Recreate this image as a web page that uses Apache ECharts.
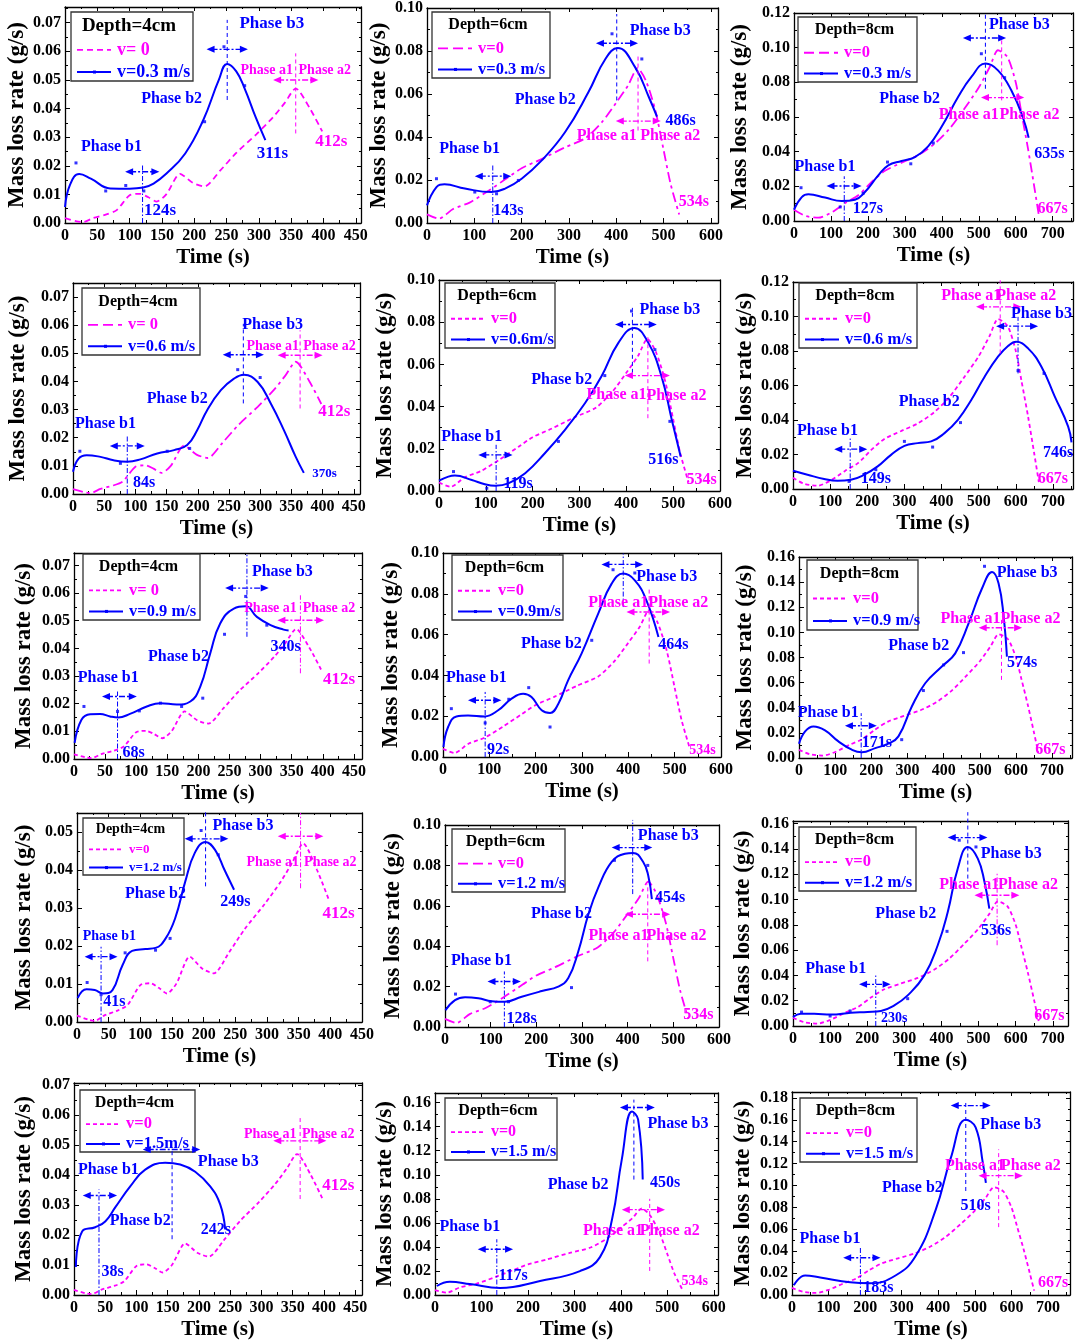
<!DOCTYPE html>
<html><head><meta charset="utf-8">
<script src="https://cdn.jsdelivr.net/npm/echarts@6/dist/echarts.min.js"></script>
<style>html,body{margin:0;padding:0;background:#fff}#c{width:1076px;height:1341px}</style>
</head><body><div id="c"></div>
<script>
const FONT = '"Liberation Serif", "Times New Roman", serif';
const BLUE = '#0000ff', PINK = '#ff00ff';

// ---------- v = 0 reference curves (one per depth) ----------
const v0_4cm = [[0,0.0017],[18,0.0006],[28,0.0003],[44,0.0018],[64,0.003],[80,0.0045],[100,0.0097],[116,0.0102],[129,0.009],[142,0.0075],[157,0.0101],[178,0.0172],[198,0.014],[216,0.0128],[240,0.0183],[265,0.0245],[296,0.031],[322,0.037],[340,0.042],[357,0.047],[379,0.040],[398,0.032]];
const v0_6cm = [[0,0.004],[25,0.002],[55,0.0065],[90,0.0095],[130,0.015],[170,0.021],[200,0.0255],[240,0.0295],[290,0.035],[335,0.0395],[370,0.047],[400,0.056],[425,0.064],[445,0.072],[463,0.066],[483,0.052],[500,0.034],[515,0.018],[533,0.004]];
const v0_8cm = [[0,0.0065],[30,0.003],[66,0.0019],[102,0.005],[140,0.0105],[175,0.015],[210,0.0225],[246,0.029],[290,0.0335],[336,0.038],[380,0.0445],[420,0.053],[460,0.0645],[500,0.077],[530,0.089],[552,0.0985],[578,0.0945],[600,0.08],[615,0.063],[633,0.042],[650,0.02],[662,0.004]];

// ---------- wind-on curves ----------
const b_4_03 = [[0,0.0056],[8,0.0135],[22,0.0171],[40,0.0155],[70,0.0121],[100,0.012],[121,0.0124],[137,0.0138],[157,0.0173],[186,0.0243],[214,0.036],[238,0.05],[251,0.0556],[265,0.053],[278,0.047],[295,0.037],[310,0.029]];
const b_6_03 = [[0,0.0082],[20,0.0167],[37,0.018],[80,0.016],[136,0.0144],[165,0.016],[200,0.0206],[242,0.029],[292,0.0423],[341,0.0608],[377,0.0763],[403,0.0814],[440,0.0724],[469,0.0585],[486,0.0495]];
const b_8_03 = [[0,0.0065],[21,0.0138],[39,0.0154],[84,0.0135],[129,0.0115],[165,0.0123],[192,0.0167],[228,0.0263],[255,0.0321],[291,0.0346],[327,0.0369],[363,0.0431],[399,0.0542],[444,0.0715],[480,0.0831],[518,0.0908],[552,0.0869],[588,0.0754],[619,0.06],[635,0.048]];
const b_4_06 = [[0,0.0079],[9,0.0126],[22,0.0138],[44,0.0132],[65,0.012],[87,0.0115],[108,0.0123],[135,0.0144],[162,0.0156],[183,0.0174],[199,0.0227],[215,0.0298],[237,0.0369],[258,0.041],[274,0.0424],[296,0.0398],[317,0.0322],[338,0.0227],[357,0.0132],[370,0.0075]];
const b_6_06 = [[0,0.0049],[20,0.0068],[34,0.0073],[70,0.0052],[98,0.0032],[120,0.0025],[148,0.0036],[184,0.0084],[226,0.0179],[269,0.029],[312,0.0417],[347,0.0544],[383,0.0702],[417,0.0773],[447,0.0702],[475,0.0544],[497,0.0338],[516,0.0163]];
const b_8_06 = [[0,0.0106],[39,0.0083],[84,0.0058],[120,0.0048],[156,0.0054],[192,0.0083],[228,0.0131],[264,0.0198],[300,0.025],[336,0.0266],[372,0.0276],[408,0.0324],[444,0.0401],[480,0.0516],[516,0.0651],[552,0.0767],[579,0.0829],[601,0.0854],[633,0.0815],[669,0.0709],[705,0.0536],[741,0.0362],[750,0.027]];
const b_4_09 = [[1,0.0058],[12,0.0142],[26,0.0162],[42,0.0163],[58,0.0154],[71,0.015],[90,0.0163],[117,0.019],[139,0.0202],[165,0.0197],[187,0.0208],[203,0.0262],[219,0.0382],[235,0.049],[257,0.0544],[276,0.0552],[294,0.0514],[316,0.0484],[337,0.0468],[345,0.0465]];
const b_6_09 = [[1,0.0049],[11,0.0147],[29,0.0199],[54,0.0204],[90,0.0199],[119,0.0229],[148,0.0286],[173,0.031],[191,0.0294],[213,0.0229],[231,0.0216],[249,0.0261],[270,0.0376],[299,0.0507],[335,0.0703],[364,0.085],[389,0.0899],[414,0.0866],[439,0.0768],[465,0.0588]];
const b_8_09 = [[0,0.0114],[17,0.0212],[40,0.0251],[72,0.022],[109,0.0132],[146,0.0066],[174,0.0045],[211,0.0079],[247,0.0114],[275,0.0172],[312,0.041],[349,0.0595],[395,0.0728],[432,0.0833],[469,0.1071],[506,0.1349],[534,0.1481],[552,0.1389],[566,0.1124],[575,0.0807]];
const b_4_12 = [[1,0.0063],[15,0.0086],[28,0.0084],[41,0.0075],[56,0.0084],[72,0.015],[87,0.0187],[108,0.0192],[124,0.0195],[140,0.022],[155,0.0273],[171,0.037],[186,0.0445],[203,0.0474],[218,0.0453],[233,0.04],[248,0.0348]];
const b_6_12 = [[1,0.0083],[22,0.0133],[44,0.0147],[73,0.0142],[102,0.0128],[131,0.0125],[168,0.015],[212,0.0178],[248,0.02],[270,0.0242],[292,0.0375],[314,0.0558],[336,0.0692],[365,0.0817],[394,0.0858],[412,0.0862],[434,0.0817],[445,0.075],[453,0.0633]];
const b_8_12 = [[0,0.0071],[21,0.0097],[57,0.0097],[102,0.009],[156,0.0105],[201,0.0111],[237,0.0119],[273,0.0163],[309,0.0242],[354,0.04],[390,0.0638],[417,0.0901],[444,0.1244],[471,0.1415],[498,0.1323],[516,0.1138],[529,0.0928]];
const b_4_15 = [[3,0.0093],[13,0.0212],[34,0.0226],[50,0.0245],[66,0.0292],[90,0.0362],[114,0.0418],[146,0.0441],[170,0.0435],[194,0.0411],[218,0.0362],[234,0.0302],[242,0.0219]];
const b_6_15 = [[4,0.0075],[32,0.011],[75,0.0091],[140,0.0058],[226,0.0116],[312,0.0199],[355,0.0315],[381,0.063],[402,0.1128],[424,0.1526],[437,0.146],[447,0.096]];
const b_8_15 = [[5,0.009],[36,0.0178],[77,0.016],[159,0.0116],[214,0.0107],[283,0.0178],[338,0.0356],[393,0.078],[434,0.125],[475,0.16],[502,0.153],[522,0.12],[530,0.1025]];

// ---------- raw measurement dots ----------
const d_4_03 = [[17,0.021],[63,0.0112],[94,0.0131],[122,0.0112],[216,0.0354],[246,0.0616],[278,0.048]];
const d_6_03 = [[20,0.0206],[101,0.0144],[147,0.0136],[193,0.0198],[391,0.088],[454,0.0763]];
const d_8_03 = [[19,0.0192],[125,0.0081],[187,0.016],[253,0.034],[316,0.033],[377,0.045],[507,0.0965],[570,0.0827]];
const d_4_06 = [[11,0.0152],[76,0.0109],[151,0.0152],[187,0.0162],[264,0.0442],[300,0.0414]];
const d_6_06 = [[31,0.0092],[102,0.0013],[255,0.0235],[354,0.0547],[411,0.0853],[461,0.067],[493,0.033]];
const d_8_06 = [[151,0.0044],[223,0.0112],[300,0.0276],[376,0.0243],[451,0.0385],[606,0.0686],[676,0.067]];
const d_4_09 = [[16,0.019],[70,0.0172],[105,0.0174],[139,0.0202],[173,0.019],[207,0.022],[242,0.0451],[276,0.0588],[310,0.0484]];
const d_6_09 = [[18,0.0237],[91,0.0167],[142,0.0283],[185,0.034],[231,0.0147],[321,0.0572],[367,0.0918],[414,0.0902]];
const d_8_09 = [[284,0.0146],[344,0.0537],[400,0.0741],[455,0.0839],[513,0.1526]];
const d_4_12 = [[16,0.0104],[38,0.0072],[76,0.0182],[124,0.0189],[147,0.022],[196,0.0504],[223,0.044]];
const d_6_12 = [[23,0.0163],[99,0.0125],[139,0.0125],[277,0.0195],[371,0.0825],[444,0.08]];
const d_8_12 = [[23,0.011],[100,0.0079],[154,0.0119],[309,0.0216],[415,0.0748],[448,0.1468],[493,0.1415]];
const d_none = [];

const xTickStep = {'4cm':50,'6cm':100,'8cm':100};

// ---------- panel layout / annotations ----------
const B = BLUE, P = PINK;
const SD=[4,3], MD=[6,4], LD=[10,5], DD=[10,4,3,4];
const panels = [
 {depth:'4cm', v0:'v= 0', vb:'v=0.3 m/s', grid:[65,7,361,223], xMax:458, yMax:0.0755, yInt:0.01, yGap:36.5,
  blue:b_4_03, dots:d_4_03, pink:v0_4cm, pd:MD, ld:MD, legend:[71,12,122,69], legFs:[19,18],
  texts:[['Phase b1',72,0.0266,B],['124s',147,0.0042,B,17],['Phase b2',165,0.0433,B],['Phase b3',320,0.0698,B,17],['311s',321,0.0243,B,17],['Phase a1',312,0.0534,P,14],['Phase a2',402,0.0534,P,14],['412s',412,0.0284,P,17]],
  vlines:[[120,0,0.0208,B,1],[251,0.043,0.071,B,0],[357,0.0313,0.0593,P,0]],
  arrows:[[93,120,146,0.0179,B],[219,251,283,0.0607,B],[322,357,392,0.05,P]]},
 {depth:'6cm', v0:'v=0', vb:'v=0.3 m/s', grid:[427,7,718,223], xMax:615, yMax:0.10, yInt:0.02, yGap:36.5,
  blue:b_6_03, dots:d_6_03, pink:v0_6cm, pd:DD, ld:LD, legend:[432,12,118,66], legFs:[16,16.5],
  texts:[['Phase b1',90,0.0345,B],['143s',172,0.0056,B],['Phase b2',250,0.0574,B],['Phase b3',493,0.0895,B],['486s',536,0.0477,B],['Phase a1',380,0.0407,P],['Phase a2',514,0.0407,P],['534s',564,0.0098,P]],
  vlines:[[139,0,0.0268,B,1],[401,0.057,0.0972,B,0],[446,0.043,0.0786,P,0]],
  arrows:[[101,139,178,0.0218,B],[357,401,446,0.0836,B],[399,446,494,0.0474,P]]},
 {depth:'8cm', v0:'v=0', vb:'v=0.3 m/s', grid:[794,13,1073,221], xMax:755, yMax:0.12, yInt:0.02, yGap:42.5,
  blue:b_8_03, dots:d_8_03, pink:v0_8cm, pd:DD, ld:LD, legend:[798,17,119,65], legFs:[16,16.5],
  texts:[['Phase b1',84,0.0312,B],['127s',200,0.0071,B],['Phase b2',313,0.0706,B],['Phase b3',610,0.113,B],['635s',691,0.0385,B],['Phase a1',473,0.061,P],['Phase a2',637,0.061,P],['667s',700,0.0071,P]],
  vlines:[[136,0,0.0258,B,1],[518,0.0763,0.1196,B,0],[562,0.0696,0.106,P,0]],
  arrows:[[88,136,183,0.0202,B],[457,518,574,0.1056,B],[506,562,623,0.0712,P]]},

 {depth:'4cm', v0:'v= 0', vb:'v=0.6 m/s', grid:[73,283,360,494], xMax:460, yMax:0.075, yInt:0.01, yGap:43.5,
  blue:b_4_06, dots:d_4_06, pink:v0_4cm, pd:DD, ld:LD, legend:[82,288,118,67], legFs:[16,16.5],
  texts:[['Phase b1',52,0.0248,B],['84s',114,0.0038,B],['Phase b2',167,0.0339,B],['Phase b3',320,0.060,B],['370s',403,0.0071,B,13],['Phase a1',320,0.0525,P,14],['Phase a2',411,0.0525,P,14],['412s',419,0.0292,P,17]],
  vlines:[[87,0,0.021,B,1],[273,0.0322,0.0605,B,0],[364,0.0304,0.0582,P,0]],
  arrows:[[59,87,115,0.0171,B],[240,273,306,0.0495,B],[328,364,400,0.0493,P]]},
 {depth:'6cm', v0:'v=0', vb:'v=0.6m/s', grid:[439,280,720,491], xMax:600, yMax:0.10, yInt:0.02, yGap:42.5,
  blue:b_6_06, dots:d_6_06, pink:v0_6cm, pd:SD, ld:SD, legend:[445,283,110,65], legFs:[16,16.5],
  texts:[['Phase b1',70,0.0258,B],['119s',169,0.0036,B],['Phase b2',262,0.0528,B],['Phase b3',493,0.086,B],['516s',479,0.0147,B],['Phase a1',379,0.0456,P],['Phase a2',507,0.0452,P],['534s',561,0.0052,P]],
  vlines:[[122,0,0.0219,B,1],[413,0.056,0.0868,B,0],[446,0.0345,0.0742,P,0]],
  arrows:[[84,122,157,0.0171,B],[376,413,465,0.0789,B],[397,446,493,0.0547,P]]},
 {depth:'8cm', v0:'v=0', vb:'v=0.6 m/s', grid:[793,282,1073,489], xMax:754, yMax:0.12, yInt:0.02, yGap:36.5,
  blue:b_8_06, dots:d_8_06, pink:v0_8cm, pd:SD, ld:SD, legend:[799,283,118,65], legFs:[16,16.5],
  texts:[['Phase a1',480,0.1118,P],['Phase a2',628,0.1118,P],['Phase b3',669,0.1017,B],['Phase b2',367,0.0507,B],['Phase b1',93,0.0339,B],['149s',223,0.0058,B],['746s',714,0.0212,B],['667s',700,0.0058,P]],
  vlines:[[558,0.0786,0.121,P,0],[606,0.067,0.0998,B,1],[154,0,0.0295,B,1]],
  arrows:[[493,558,615,0.1056,P],[547,606,660,0.0944,B],[111,154,200,0.0231,B]]},

 {depth:'4cm', v0:'v= 0', vb:'v=0.9 m/s', grid:[74,553,362,759], xMax:463, yMax:0.0745, yInt:0.01, yGap:38.5,
  blue:b_4_09, dots:d_4_09, pink:v0_4cm, pd:SD, ld:SD, legend:[83,554,117,66], legFs:[16,16.5],
  texts:[['Phase b1',55,0.0292,B],['68s',96,0.0022,B],['Phase b2',168,0.037,B],['Phase b3',335,0.0676,B],['340s',340,0.0406,B],['Phase a1',316,0.0544,P,14],['Phase a2',410,0.0544,P,14],['412s',426,0.0286,P,17]],
  vlines:[[70,0,0.0244,B,1],[278,0.0442,0.0742,B,1],[364,0.031,0.0592,P,1]],
  arrows:[[45,70,101,0.0226,B],[243,278,313,0.0618,B],[327,364,402,0.0502,P]]},
 {depth:'6cm', v0:'v=0', vb:'v=0.9m/s', grid:[443,553,721,757], xMax:600, yMax:0.10, yInt:0.02, yGap:40.5,
  blue:b_6_09, dots:d_6_09, pink:v0_6cm, pd:SD, ld:SD, legend:[452,555,111,65], legFs:[16,16.5],
  texts:[['Phase b1',72,0.0389,B],['92s',119,0.0033,B],['Phase b2',234,0.0556,B],['Phase b3',483,0.0882,B],['Phase a1',378,0.0755,P],['Phase a2',508,0.0755,P],['464s',497,0.0552,B],['534s',560,0.0033,P,14]],
  vlines:[[91,0,0.0319,B,1],[389,0.0735,0.0997,B,1],[445,0.0458,0.0833,P,0]],
  arrows:[[54,91,126,0.0278,B],[342,389,432,0.0944,B],[396,445,490,0.0711,P]]},
 {depth:'8cm', v0:'v=0', vb:'v=0.9 m/s', grid:[799,557,1072,758], xMax:755, yMax:0.16, yInt:0.02, yGap:42.5,
  blue:b_8_09, dots:d_8_09, pink:v0_8cm, pd:SD, ld:SD, legend:[807,560,111,70], legFs:[16,16.5],
  texts:[['Phase b1',81,0.0357,B],['171s',215,0.0119,B],['Phase b2',331,0.0892,B],['Phase b3',631,0.1476,B],['Phase a1',474,0.1106,P],['Phase a2',640,0.1106,P],['574s',617,0.0759,B],['667s',695,0.0066,P]],
  vlines:[[172,0,0.0357,B,1],[560,0.0622,0.1124,P,0]],
  arrows:[[127,172,215,0.0257,B],[497,560,617,0.1037,P]]},

 {depth:'4cm', v0:'v=0', vb:'v=1.2 m/s', grid:[77,813,362,1022], xMax:450, yMax:0.055, yInt:0.01, yGap:41.5,
  blue:b_4_12, dots:d_4_12, pink:v0_4cm, pd:SD, ld:SD, legend:[83,818,101,57], legFs:[14,13],
  texts:[['Phase b1',51,0.0224,B,14],['41s',59,0.0053,B,16],['Phase b2',124,0.0336,B],['Phase b3',262,0.0515,B],['249s',250,0.0315,B],['Phase a1',309,0.0421,P,14],['Phase a2',400,0.0421,P,14],['412s',413,0.0286,P,17]],
  vlines:[[38,0,0.0198,B,1],[203,0.0357,0.0559,B,0],[353,0.0352,0.055,P,1]],
  arrows:[[12,38,64,0.0172,B],[170,203,239,0.0482,B],[317,353,389,0.0489,P]]},
 {depth:'6cm', v0:'v=0', vb:'v=1.2 m/s', grid:[445,825,719,1027], xMax:600, yMax:0.10, yInt:0.02, yGap:40.5,
  blue:b_6_12, dots:d_6_12, pink:v0_6cm, pd:DD, ld:LD, legend:[452,829,113,63], legFs:[16,16.5],
  texts:[['Phase b1',80,0.0325,B],['128s',168,0.0042,B],['Phase b2',255,0.0558,B],['Phase b3',489,0.0945,B],['454s',493,0.0638,B],['Phase a1',380,0.045,P],['Phase a2',507,0.045,P],['534s',555,0.0058,P]],
  vlines:[[130,0,0.0275,B,1],[411,0.0658,0.1025,B,1],[444,0.0325,0.0708,P,0]],
  arrows:[[93,130,166,0.0225,B],[365,411,454,0.0888,B],[394,444,493,0.0558,P]]},
 {depth:'8cm', v0:'v=0', vb:'v=1.2 m/s', grid:[793,821,1068,1026], xMax:741, yMax:0.162, yInt:0.02, yGap:38.5,
  blue:b_8_12, dots:d_8_12, pink:v0_8cm, pd:SD, ld:SD, legend:[799,827,117,64], legFs:[16,16.5],
  texts:[['Phase b1',115,0.0453,B],['230s',273,0.0063,B,14],['Phase b2',304,0.0888,B],['Phase b3',588,0.1362,B],['Phase a1',475,0.1112,P],['Phase a2',633,0.1112,P],['536s',547,0.0748,B],['667s',691,0.0084,P]],
  vlines:[[223,0,0.040,B,1],[471,0.1165,0.169,B,0],[550,0.0638,0.1217,P,1]],
  arrows:[[178,223,263,0.0329,B],[417,471,524,0.1489,B],[489,550,610,0.1033,P]]},

 {depth:'4cm', v0:'v=0', vb:'v=1.5m/s', grid:[74,1083,362,1296], xMax:461, yMax:0.0707, yInt:0.01, yGap:38.5,
  blue:b_4_15, dots:d_none, pink:v0_4cm, pd:SD, ld:SD, legend:[80,1090,115,62], legFs:[16,16.5],
  texts:[['Phase b1',55,0.0418,B],['38s',62,0.0076,B],['Phase b2',106,0.0246,B],['Phase b3',247,0.0445,B],['242s',227,0.0216,B],['Phase a1',314,0.0537,P,14],['Phase a2',407,0.0537,P,14],['412s',423,0.0365,P,17]],
  vlines:[[40,0,0.0352,B,1],[157,0.0186,0.049,B,0],[362,0.032,0.059,P,0]],
  arrows:[[14,40,69,0.0332,B],[110,157,202,0.0485,B],[319,362,404,0.0514,P]]},
 {depth:'6cm', v0:'v=0', vb:'v=1.5 m/s', grid:[435,1093,718,1297], xMax:609, yMax:0.168, yInt:0.02, yGap:38.5,
  blue:b_6_15, dots:d_none, pink:v0_6cm, pd:SD, ld:SD, legend:[445,1098,112,62], legFs:[16,16],
  texts:[['Phase b1',75,0.0564,B],['117s',168,0.0158,B],['Phase b2',308,0.092,B],['Phase b3',523,0.1426,B],['450s',495,0.0929,B],['Phase a1',383,0.053,P],['Phase a2',505,0.053,P],['534s',559,0.0116,P,14]],
  vlines:[[133,0,0.0464,B,1],[428,0.096,0.1625,B,0],[462,0.02,0.08,P,0]],
  arrows:[[92,133,168,0.038,B],[398,428,473,0.156,B],[402,462,495,0.071,P]]},
 {depth:'8cm', v0:'v=0', vb:'v=1.5 m/s', grid:[792,1092,1070,1300], xMax:760, yMax:0.1854, yInt:0.02, yGap:37.5,
  blue:b_8_15, dots:d_none, pink:v0_8cm, pd:SD, ld:SD, legend:[800,1098,117,64], legFs:[16,16.5],
  texts:[['Phase b1',104,0.0517,B],['183s',236,0.0062,B],['Phase b2',329,0.098,B],['Phase b3',598,0.155,B],['510s',502,0.081,B],['Phase a1',500,0.1176,P],['Phase a2',653,0.1176,P],['667s',714,0.0107,P]],
  vlines:[[187,0,0.0446,B,1],[475,0.095,0.178,B,0],[565,0.062,0.133,P,0]],
  arrows:[[140,187,242,0.034,B],[434,475,543,0.173,B],[510,565,631,0.109,P]]}
];

// ---------- build option ----------
const isMult = (v, s) => Math.abs(v / s - Math.round(v / s)) < 1e-6;
const grids = [], xAxes = [], yAxes = [], series = [];
const axisLine = {show:true, onZero:false, lineStyle:{color:'#000', width:1.3}};
panels.forEach((p, i) => {
  const [l, t, r, b] = p.grid;
  grids.push({left:l, top:t, width:r - l, height:b - t, containLabel:false});
  const xInt = xTickStep[p.depth];
  const common = {type:'value', gridIndex:i, splitLine:{show:false}};
  xAxes.push(Object.assign({}, common, {
    min:0, max:p.xMax, interval:xInt, position:'bottom',
    name:'Time (s)', nameLocation:'middle', nameGap:24,
    nameTextStyle:{fontFamily:FONT, fontWeight:'bold', fontSize:21, color:'#000'},
    axisLine, axisTick:{show:true, inside:true, length:5, lineStyle:{color:'#000', width:1}},
    minorTick:{show:true, splitNumber:2, length:3, lineStyle:{color:'#000'}},
    axisLabel:{fontFamily:FONT, fontWeight:'bold', fontSize:16, color:'#000', margin:5,
      showMaxLabel:true, formatter:v => isMult(v, xInt) ? String(Math.round(v)) : ''}
  }));
  xAxes.push(Object.assign({}, common, {
    min:0, max:p.xMax, interval:xInt, position:'top', axisLine,
    axisTick:{show:true, inside:true, length:4, lineStyle:{color:'#000'}},
    minorTick:{show:true, splitNumber:2, length:2, lineStyle:{color:'#000'}},
    axisLabel:{show:false}
  }));
  yAxes.push(Object.assign({}, common, {
    min:0, max:p.yMax, interval:p.yInt, position:'left',
    name:'Mass loss rate (g/s)', nameLocation:'middle', nameGap:p.yGap,
    nameTextStyle:{fontFamily:FONT, fontWeight:'bold', fontSize:23, color:'#000'},
    axisLine, axisTick:{show:true, inside:true, length:5, lineStyle:{color:'#000'}},
    minorTick:{show:true, splitNumber:2, length:3, lineStyle:{color:'#000'}},
    axisLabel:{fontFamily:FONT, fontWeight:'bold', fontSize:16, color:'#000', margin:4,
      formatter:v => isMult(v, p.yInt) ? v.toFixed(2) : ''}
  }));
  yAxes.push(Object.assign({}, common, {
    min:0, max:p.yMax, interval:p.yInt, position:'right', axisLine,
    axisTick:{show:true, inside:true, length:4, lineStyle:{color:'#000'}},
    minorTick:{show:true, splitNumber:2, length:2, lineStyle:{color:'#000'}},
    axisLabel:{show:false}
  }));
  series.push({type:'line', name:'v=0', xAxisIndex:2*i, yAxisIndex:2*i, data:p.pink,
    smooth:0.25, symbol:'none', lineStyle:{color:PINK, width:1.8, type:p.pd}, z:3});
  series.push({type:'line', name:'wind', xAxisIndex:2*i, yAxisIndex:2*i, data:p.blue,
    smooth:0.45, symbol:'none', lineStyle:{color:BLUE, width:2}, z:4});
  series.push({type:'scatter', name:'dots', xAxisIndex:2*i, yAxisIndex:2*i, data:p.dots,
    symbol:'rect', symbolSize:3, itemStyle:{color:BLUE}, z:5});
});

const chart = echarts.init(document.getElementById('c'), null, {renderer:'canvas'});
chart.setOption({animation:false, backgroundColor:'#fff', grid:grids, xAxis:xAxes, yAxis:yAxes, series});

// ---------- annotations (positioned through the axes' own scales) ----------
const g = [];
const txt = (s, x, y, color, fs, align) => g.push({type:'text', z:100, x, y, style:{
  text:s, fill:color, fontFamily:FONT, fontWeight:'bold', fontSize:fs, align:align || 'center', verticalAlign:'middle'}});
panels.forEach((p, i) => {
  const px = (t, v) => chart.convertToPixel({xAxisIndex:2*i, yAxisIndex:2*i}, [t, v]);
  p.vlines.forEach(([t, v1, v2, c, dd]) => {
    const a = px(t, v1), b = px(t, v2);
    g.push({type:'line', z:90, shape:{x1:a[0], y1:a[1], x2:b[0], y2:b[1]},
      style:{stroke:c, lineWidth:1, lineDash: dd ? [5,2,1.5,2] : [4,3]}});
  });
  p.arrows.forEach(([tl, tc, tr, v, c]) => {
    const L = px(tl, v), R = px(tr, v);
    g.push({type:'line', z:90, shape:{x1:L[0] + 5, y1:L[1], x2:R[0] - 5, y2:R[1]},
      style:{stroke:c, lineWidth:1.4, lineDash:[6,2,2,2]}});
    g.push({type:'polygon', z:91, shape:{points:[[L[0], L[1]], [L[0] + 8, L[1] - 3.5], [L[0] + 8, L[1] + 3.5]]}, style:{fill:c}});
    g.push({type:'polygon', z:91, shape:{points:[[R[0], R[1]], [R[0] - 8, R[1] - 3.5], [R[0] - 8, R[1] + 3.5]]}, style:{fill:c}});
  });
  p.texts.forEach(([s, t, v, c, fs]) => {
    const q = px(t, v);
    txt(s, q[0], q[1], c, fs || 16);
  });
  // legend box
  const [lx, ly, lw, lh] = p.legend;
  g.push({type:'rect', z:80, shape:{x:lx, y:ly, width:lw, height:lh}, style:{fill:'#fff', stroke:'#333', lineWidth:1.3}});
  txt('Depth=' + p.depth, lx + lw / 2 - 3, ly + lh * 0.2, '#000', p.legFs[0]);
  const y2 = ly + lh * 0.55, y3 = ly + lh * 0.87;
  g.push({type:'line', z:85, shape:{x1:lx + 6, y1:y2, x2:lx + 40, y2:y2}, style:{stroke:PINK, lineWidth:1.8, lineDash:p.ld}});
  g.push({type:'line', z:85, shape:{x1:lx + 6, y1:y3, x2:lx + 40, y2:y3}, style:{stroke:BLUE, lineWidth:2}});
  g.push({type:'rect', z:86, shape:{x:lx + 22, y:y3 - 1.5, width:3, height:3}, style:{fill:BLUE}});
  txt(p.v0, lx + 46, y2, PINK, p.legFs[1], 'left');
  txt(p.vb, lx + 46, y3, BLUE, p.legFs[1], 'left');
});
chart.setOption({graphic:{elements:g}});
</script></body></html>
